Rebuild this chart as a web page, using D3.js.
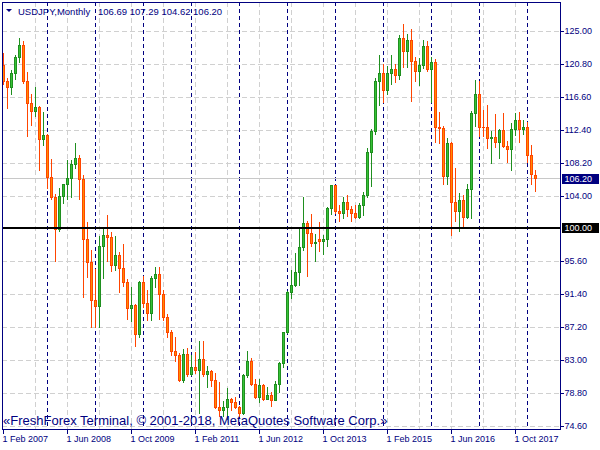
<!DOCTYPE html>
<html><head><meta charset="utf-8">
<script src="https://cdn.jsdelivr.net/npm/d3@7/dist/d3.min.js"></script>
<style>html,body{margin:0;padding:0;background:#fff}svg{display:block}</style>
</head><body><svg id="c" width="600" height="450"></svg>
<script>
// ---- data (monthly USDJPY, Feb 2007 .. Mar 2018) ----
const symbolTitle = "USDJPY,Monthly";
const lastQuote = ["106.69", "107.29", "104.62", "106.20"];
const watermark = "\u00abFreshForex Terminal, \u00a9 2001-2018, MetaQuotes Software Corp.\u00bb";
const startYear = 2007, startMonth = 2;

const open = [
  120.7,118.6,117.8,119.7,121.7,123.2,118.6,115.8,114.8,115.3,111.2,
  111.7,106.4,103.8,99.7,104.0,105.5,106.2,108.0,108.8,106.1,98.5,95.5,
  90.7,89.9,97.6,99.0,98.7,95.2,96.4,94.7,93.0,89.7,90.1,86.4,
  93.0,90.3,89.0,93.5,94.0,91.4,88.5,86.6,84.2,83.6,80.5,83.8,
  81.2,82.1,81.8,83.1,81.2,81.6,80.5,77.0,76.6,77.0,78.1,77.6,
  77.0,76.3,81.1,82.9,80.0,78.3,79.8,78.1,78.5,77.9,79.9,82.6,
  86.6,91.7,92.6,94.2,97.5,100.5,99.2,97.9,98.4,98.2,98.4,102.4,
  105.3,102.0,101.8,103.2,102.3,101.8,101.3,102.8,104.1,109.6,112.3,118.6,
  119.7,117.5,119.6,120.1,119.4,124.1,122.5,123.9,121.2,119.9,120.6,123.1,
  120.2,121.1,112.7,112.6,106.5,110.7,103.2,102.0,103.4,101.3,104.8,114.5,
  117.0,112.8,112.7,111.4,111.5,110.8,112.4,110.3,110.0,112.5,113.6,112.5,
  112.7,109.2,106.69];
const high = [
  122.2,119.0,120.0,122.0,124.1,123.7,119.8,117.0,117.9,115.4,114.7,
  111.9,108.7,104.2,105.0,105.5,108.6,108.6,110.7,109.2,106.6,100.6,97.0,
  94.6,98.8,99.8,101.5,99.3,98.9,96.8,97.8,93.4,92.3,90.2,93.1,
  93.8,91.9,93.8,94.9,94.9,92.0,88.9,86.9,85.9,83.9,84.4,84.5,
  83.6,84.0,85.5,85.5,82.2,81.7,81.4,80.2,77.8,79.5,78.2,78.3,
  77.2,81.2,84.2,83.3,80.6,80.6,80.0,79.6,78.9,80.3,82.8,86.6,
  91.8,94.5,96.7,100.0,103.8,100.8,101.6,99.1,100.6,99.0,102.5,105.4,
  105.4,102.8,103.8,104.1,102.7,102.8,103.1,104.5,110.1,112.5,119.0,121.9,
  120.8,120.5,122.0,120.8,124.5,125.9,124.6,125.3,121.7,121.5,123.8,123.7,
  121.7,121.4,114.7,112.9,111.4,110.9,107.5,104.3,104.1,105.5,114.8,118.7,
  118.6,114.9,115.5,112.2,114.4,112.5,114.5,111.0,113.3,114.5,114.7,113.7,
  113.4,110.5,107.29];
const low = [
  118.3,115.2,117.0,118.9,121.0,118.4,111.6,113.0,114.2,107.3,110.5,
  105.0,103.6,95.7,99.5,103.0,103.6,103.8,107.5,103.6,91.0,93.6,87.2,
  87.2,87.2,93.5,95.6,94.4,94.5,91.7,92.5,88.2,88.0,84.8,86.0,
  89.8,88.1,88.1,92.3,88.2,88.1,86.0,83.6,82.9,80.3,80.2,81.0,
  81.1,81.4,76.2,81.0,79.6,79.7,76.9,75.9,75.9,75.5,76.6,76.9,
  75.9,76.1,80.8,79.8,78.2,77.7,77.9,78.0,77.1,77.9,79.0,82.1,
  86.5,90.9,92.5,92.6,97.1,93.8,97.6,95.7,96.9,96.6,97.6,101.6,
  101.8,100.8,101.2,101.4,100.8,101.1,101.1,101.5,103.8,105.2,111.9,115.6,
  115.9,116.9,118.3,118.5,118.9,120.4,120.4,116.1,118.6,118.1,120.3,119.9,
  116.0,110.9,110.7,105.5,105.5,99.0,100.7,99.5,100.1,101.2,101.2,112.9,
  111.6,111.6,110.1,108.1,110.2,108.8,110.2,108.3,107.3,111.7,110.8,111.9,
  108.3,105.5,104.62];
const close = [
  118.6,117.8,119.7,121.7,123.2,118.6,115.8,114.8,115.3,111.2,111.7,
  106.4,103.8,99.7,104.0,105.5,106.2,108.0,108.8,106.1,98.5,95.5,90.7,
  89.9,97.6,99.0,98.7,95.2,96.4,94.7,93.0,89.7,90.1,86.4,93.0,
  90.3,89.0,93.5,94.0,91.4,88.5,86.6,84.2,83.6,80.5,83.8,81.2,
  82.1,81.8,83.1,81.2,81.6,80.5,77.0,76.6,77.0,78.1,77.6,77.0,
  76.3,81.1,82.9,80.0,78.3,79.8,78.1,78.5,77.9,79.9,82.6,86.6,
  91.7,92.6,94.2,97.5,100.5,99.2,97.9,98.1,98.2,98.4,102.4,105.3,
  102.0,101.8,103.2,102.3,101.8,101.3,102.8,104.1,109.6,112.3,118.6,119.7,
  117.5,119.6,120.1,119.4,124.1,122.5,123.9,121.2,119.9,120.6,123.1,120.2,
  121.1,112.7,112.6,106.5,110.7,103.2,102.0,103.4,101.3,104.8,114.5,117.0,
  112.8,112.7,111.4,111.5,110.8,112.4,110.3,110.0,112.5,113.6,112.5,112.7,
  109.2,106.7,106.20];

const priceTicks = [125.00,120.80,116.60,112.40,108.20,104.00,95.60,91.40,87.20,83.00,78.80,74.60];
const timeLabels = ["1 Feb 2007","1 Jun 2008","1 Oct 2009","1 Feb 2011","1 Jun 2012","1 Oct 2013","1 Feb 2015","1 Jun 2016","1 Oct 2017"];
const timeLabelBars = [0,16,32,48,64,80,96,112,128];
const levelLine = 100.00;
const bidPrice = 106.20;

// ---- layout ----
const NAVY = "#000080";
const FONT = "'Liberation Sans', Arial, sans-serif";
const plot = {left: 2, top: 2, right: 560, bottom: 429};
const n = close.length;
const svg = d3.select("#c");
svg.append("rect").attr("width",600).attr("height",450).attr("fill","#fff");

const x = d3.scaleLinear().domain([0, n - 1]).range([3, 3 + 4 * (n - 1)]);
const y = d3.scaleLinear().domain([74.6, 125]).range([426, 31]);
const py = v => Math.round(y(v));

const bars = d3.range(n).map(i => ({
  i, o: open[i], h: high[i], l: low[i], c: close[i],
  month: (startMonth - 1 + i) % 12 + 1
}));

svg.append("clipPath").attr("id","pc").append("rect")
  .attr("x", plot.left + 1).attr("y", plot.top + 1)
  .attr("width", plot.right - plot.left - 1).attr("height", plot.bottom - plot.top - 1);

const g = svg.append("g").attr("clip-path","url(#pc)");

// grid: horizontal at price ticks
g.selectAll("line.hg").data(priceTicks).join("line")
  .attr("x1", plot.left).attr("x2", plot.right)
  .attr("y1", d => py(d) + 0.5).attr("y2", d => py(d) + 0.5)
  .attr("stroke","#d0d0d0").attr("stroke-dasharray","5,3").attr("shape-rendering","crispEdges");
// grid: vertical every 8 bars
const vgrid = d3.range(8, n, 8);
g.selectAll("line.vg").data(vgrid).join("line")
  .attr("x1", d => x(d) + 0.5).attr("x2", d => x(d) + 0.5)
  .attr("y1", plot.top).attr("y2", plot.bottom)
  .attr("stroke","#d0d0d0").attr("stroke-dasharray","5,3").attr("shape-rendering","crispEdges");
// year separators (January bars)
g.selectAll("line.sep").data(bars.filter(b => b.month === 1)).join("line")
  .attr("x1", d => x(d.i) + 0.5).attr("x2", d => x(d.i) + 0.5)
  .attr("y1", plot.top).attr("y2", plot.bottom)
  .attr("stroke", NAVY).attr("stroke-dasharray","4,3").attr("shape-rendering","crispEdges");
// bid line
g.append("line").attr("x1", plot.left).attr("x2", plot.right)
  .attr("y1", py(bidPrice) + 0.5).attr("y2", py(bidPrice) + 0.5)
  .attr("stroke","#c8c8c8").attr("shape-rendering","crispEdges");

// candles
const UP_EDGE = "#1f8f1f", UP_FILL = "#36c236", DN_EDGE = "#ff4500", DN_FILL = "#ff8c00";
const cg = g.append("g").attr("shape-rendering","crispEdges");
const cand = cg.selectAll("g").data(bars).join("g");
cand.append("rect")
  .attr("x", d => x(d.i)).attr("width", 1)
  .attr("y", d => py(d.h)).attr("height", d => py(d.l) - py(d.h) + 1)
  .attr("fill", d => d.c >= d.o ? UP_EDGE : DN_EDGE);
cand.append("rect")
  .attr("x", d => x(d.i) - 1).attr("width", 3)
  .attr("y", d => py(Math.max(d.o, d.c)))
  .attr("height", d => py(Math.min(d.o, d.c)) - py(Math.max(d.o, d.c)) + 1)
  .attr("fill", d => d.c >= d.o ? UP_EDGE : DN_EDGE);
cand.filter(d => py(Math.min(d.o, d.c)) - py(Math.max(d.o, d.c)) >= 2).append("rect")
  .attr("x", d => x(d.i)).attr("width", 1)
  .attr("y", d => py(Math.max(d.o, d.c)) + 1)
  .attr("height", d => py(Math.min(d.o, d.c)) - py(Math.max(d.o, d.c)) - 1)
  .attr("fill", d => d.c >= d.o ? UP_FILL : DN_FILL);

// 100.00 level line
g.append("rect").attr("x", plot.left).attr("width", plot.right - plot.left)
  .attr("y", py(levelLine)).attr("height", 2).attr("fill","#000").attr("shape-rendering","crispEdges");

// watermark
svg.append("text").attr("x", 3).attr("y", 425).attr("font-family", FONT).attr("font-size", 13)
  .attr("fill", NAVY).text(watermark);

// frame
svg.append("rect").attr("x", plot.left + 0.5).attr("y", plot.top + 0.5)
  .attr("width", plot.right - plot.left).attr("height", plot.bottom - plot.top)
  .attr("fill","none").attr("stroke", NAVY).attr("shape-rendering","crispEdges");

// right price axis
const yAxis = d3.axisRight(y).tickValues(priceTicks).tickFormat(d3.format(".2f")).tickSize(3).tickPadding(1);
const ya = svg.append("g").attr("transform", `translate(${plot.right + 0.5},0)`).call(yAxis);
ya.select(".domain").remove();
ya.selectAll(".tick").attr("transform", d => `translate(0,${py(d) + 0.5})`);
ya.selectAll(".tick line").attr("stroke", NAVY).attr("shape-rendering","crispEdges");
ya.selectAll(".tick text").attr("fill", NAVY).attr("font-family", FONT).attr("font-size", 9);

// bottom time axis
const xAxis = d3.axisBottom(x).tickValues(timeLabelBars).tickFormat((d, k) => timeLabels[k]).tickSize(4).tickPadding(2);
const xa = svg.append("g").attr("transform", `translate(0,${plot.bottom + 0.5})`).call(xAxis);
xa.select(".domain").remove();
xa.selectAll(".tick").attr("transform", d => `translate(${x(d) + 0.5},0)`);
xa.selectAll(".tick line").attr("stroke", NAVY).attr("shape-rendering","crispEdges");
xa.selectAll(".tick text").attr("fill", NAVY).attr("font-family", FONT).attr("font-size", 9)
  .attr("text-anchor","start").attr("x", -1);

// price boxes
function priceBox(v, bg) {
  const yy = py(v);
  svg.append("rect").attr("x", plot.right + 2).attr("y", yy - 4).attr("width", 37).attr("height", 10)
    .attr("fill", bg).attr("shape-rendering","crispEdges");
  svg.append("text").attr("x", plot.right + 4.5).attr("y", yy + 1).attr("dy","0.32em")
    .attr("font-family", FONT).attr("font-size", 9).attr("fill","#fff").text(d3.format(".2f")(v));
}
priceBox(bidPrice, NAVY);
priceBox(levelLine, "#000");

// title
svg.append("path").attr("d","M6,9 L12,9 L9,12 Z").attr("fill", NAVY);
svg.append("text").attr("x", 18).attr("y", 15).attr("font-family", FONT).attr("font-size", 9.5)
  .attr("fill", NAVY).text(symbolTitle);
svg.append("text").attr("x", 98).attr("y", 15).attr("font-family", FONT).attr("font-size", 9.5)
  .attr("fill", NAVY).text(lastQuote.join(" "));
</script>
</body></html>
